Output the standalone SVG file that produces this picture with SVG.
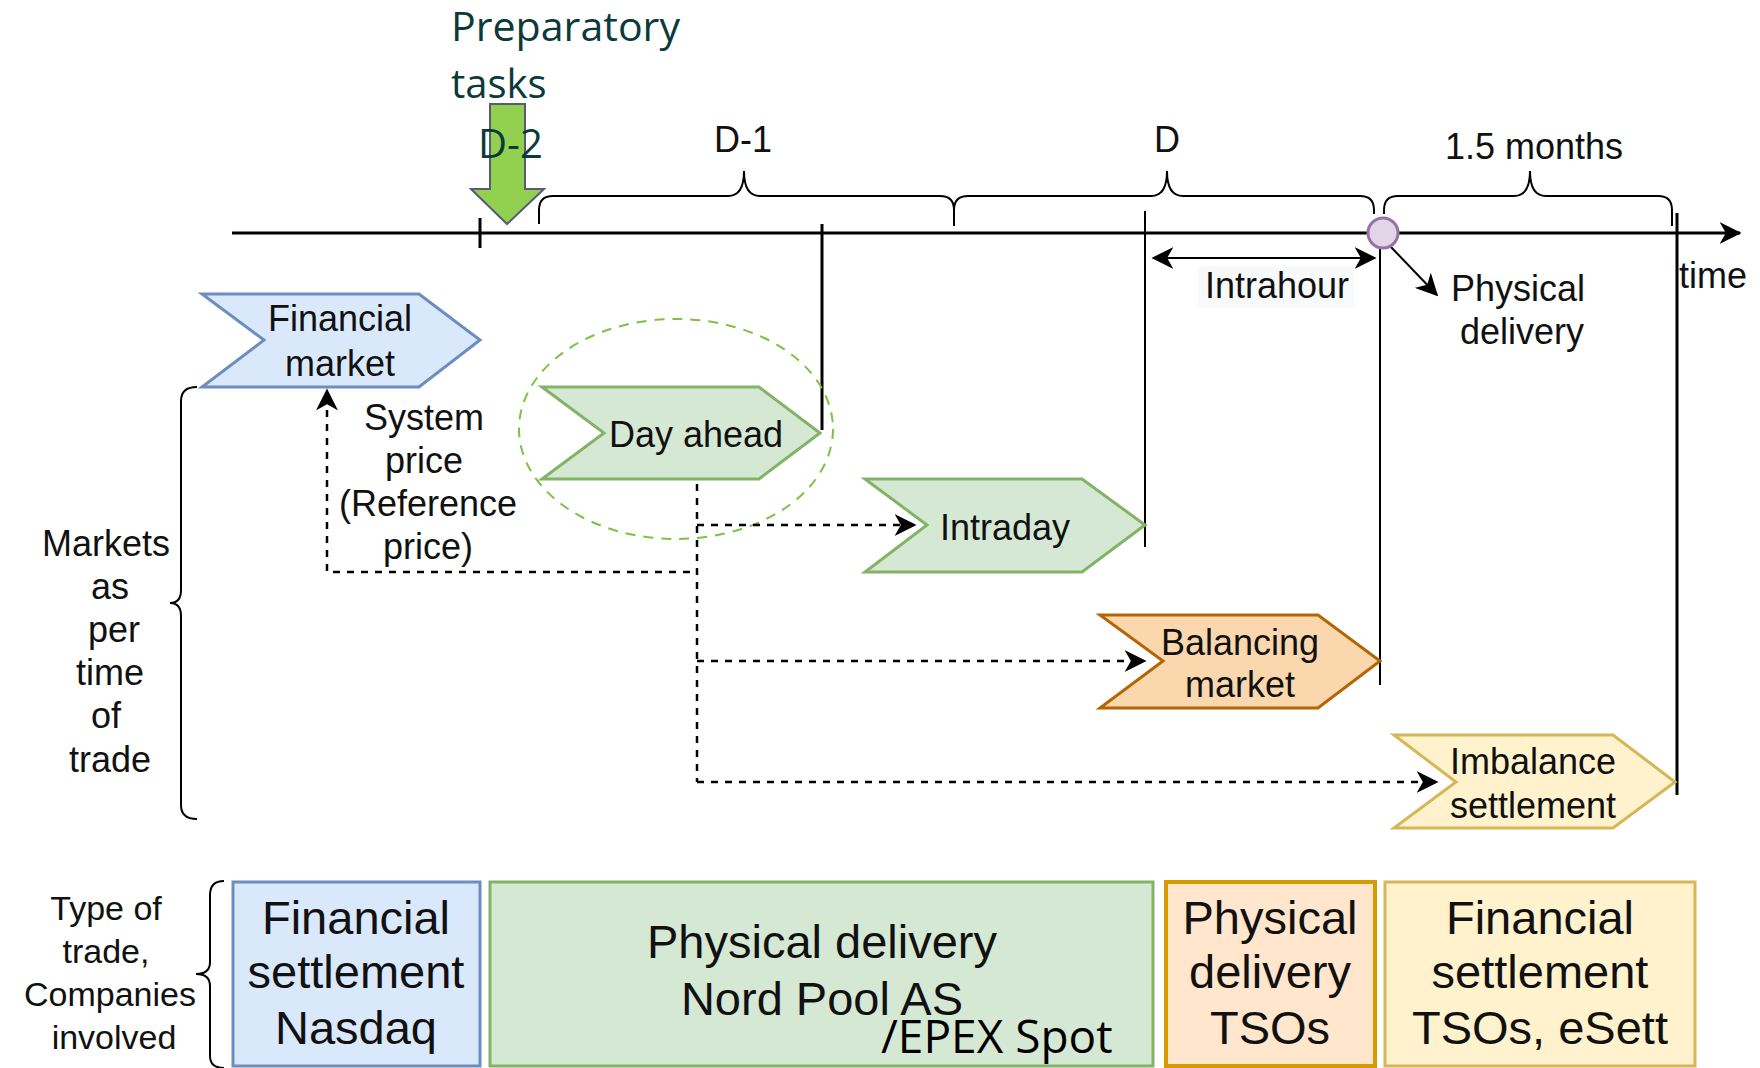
<svg xmlns="http://www.w3.org/2000/svg" width="1760" height="1068" viewBox="0 0 1760 1068">
  <style>
    .lbl { font-family: "Liberation Sans", Arial, sans-serif; font-size: 36px; fill: #111; text-anchor: middle; }
    .big { font-family: "Liberation Sans", Arial, sans-serif; font-size: 47px; fill: #111; text-anchor: middle; }
    .side { font-family: "Liberation Sans", Arial, sans-serif; font-size: 34px; fill: #111; text-anchor: middle; }
    .note { font-family: "Open Sans", "Noto Sans", sans-serif; fill: #0b3a3a; }
    .line { stroke: #000; stroke-width: 3; fill: none; }
    .thin { stroke: #000; stroke-width: 2; fill: none; }
    .brace { stroke: #000; stroke-width: 2; fill: none; }
    .dash { stroke: #000; stroke-width: 2.5; fill: none; stroke-dasharray: 7 7; }
    .blue { fill: #dae8fc; stroke: #6c8ebf; stroke-width: 3; }
    .green { fill: #d5e8d4; stroke: #82b366; stroke-width: 3; }
    .orange { fill: #fad7ac; stroke: #b46504; stroke-width: 3; }
    .peach { fill: #ffe6cc; stroke: #d79b00; stroke-width: 4; }
    .yellow { fill: #fff2cc; stroke: #d6b656; stroke-width: 3; }
  </style>
  <defs>
    <marker id="headBig" viewBox="0 0 14 14" refX="13" refY="7" markerWidth="22" markerHeight="22" markerUnits="userSpaceOnUse" orient="auto-start-reverse">
      <path d="M0,0 L14,7 L0,14 L4,7 z" fill="#000"/>
    </marker>
  </defs>

  <rect width="1760" height="1068" fill="#fff"/>

  <!-- time axis and timeline markers -->
  <g id="timeline">
    <line class="line" x1="232" y1="233" x2="1740" y2="233" marker-end="url(#headBig)"/>
    <line class="line" x1="480" y1="218" x2="480" y2="248"/>
    <line class="line" x1="822" y1="224" x2="822" y2="430"/>
    <line class="thin" x1="1145" y1="211" x2="1145" y2="547"/>
    <line class="thin" x1="1380" y1="247" x2="1380" y2="685"/>
    <line class="line" x1="1677" y1="213" x2="1677" y2="795"/>
    <text class="lbl" x="1713" y="288">time</text>
  </g>

  <!-- period braces above the axis -->
  <g id="braces-top">
    <path class="brace" d="M539,224 L539,210 Q539,196 553,196 L728,196 Q744,196 744,171 Q744,196 760,196 L940,196 Q954,196 954,210 L954,226"/>
    <path class="brace" d="M954,226 L954,210 Q954,196 968,196 L1151,196 Q1167,196 1167,171 Q1167,196 1183,196 L1360,196 Q1374,196 1374,210 L1374,214"/>
    <path class="brace" d="M1384,214 L1384,210 Q1384,196 1398,196 L1514,196 Q1530,196 1530,171 Q1530,196 1546,196 L1658,196 Q1672,196 1672,210 L1672,226"/>
    <text class="lbl" x="743" y="152">D-1</text>
    <text class="lbl" x="1167" y="152">D</text>
    <text class="lbl" x="1534" y="159">1.5 months</text>
  </g>

  <!-- preparatory tasks marker -->
  <g id="preparatory">
    <path d="M490,104 L525,104 L525,189 L544,189 L507,224 L471,189 L490,189 Z" fill="#92d050" stroke="#5a5a78" stroke-width="2"/>
    <text class="note" x="451" y="41" font-size="40" textLength="229" lengthAdjust="spacingAndGlyphs">Preparatory</text>
    <text class="note" x="451" y="98" font-size="40">tasks</text>
    <text class="note" x="478" y="158" font-size="40">D-2</text>
  </g>

  <!-- intrahour span and physical delivery point -->
  <g id="intrahour">
    <rect x="1198" y="266" width="156" height="42" fill="#f8f9fa"/>
    <line class="thin" x1="1153" y1="258" x2="1375" y2="258" marker-start="url(#headBig)" marker-end="url(#headBig)"/>
    <text class="lbl" x="1277" y="298">Intrahour</text>
  </g>
  <g id="physical-delivery-point">
    <line class="thin" x1="1390" y1="246" x2="1437" y2="295" marker-end="url(#headBig)"/>
    <circle cx="1383" cy="233" r="15" fill="#e1d5e7" stroke="#9673a6" stroke-width="3"/>
    <text class="lbl" x="1518" y="301">Physical</text>
    <text class="lbl" x="1522" y="344">delivery</text>
  </g>

  <!-- markets -->
  <g id="financial-market">
    <path class="blue" d="M202,294 L419,294 L480,340 L419,387 L202,387 L264,340 Z"/>
    <text class="lbl" x="340" y="331">Financial</text>
    <text class="lbl" x="340" y="376">market</text>
  </g>
  <g id="day-ahead">
    <ellipse cx="676" cy="429" rx="157" ry="110" fill="none" stroke="#7dc242" stroke-width="2" stroke-dasharray="10 8"/>
    <path class="green" d="M542,387 L759,387 L820,433 L759,479 L542,479 L604,433 Z"/>
    <text class="lbl" x="696" y="447">Day ahead</text>
  </g>
  <g id="intraday">
    <path class="green" d="M865,479 L1082,479 L1145,525 L1082,572 L865,572 L927,525 Z"/>
    <text class="lbl" x="1005" y="540">Intraday</text>
  </g>
  <g id="balancing-market">
    <path class="orange" d="M1100,615 L1318,615 L1380,661 L1318,708 L1100,708 L1163,661 Z"/>
    <text class="lbl" x="1240" y="655">Balancing</text>
    <text class="lbl" x="1240" y="697">market</text>
  </g>
  <g id="imbalance-settlement">
    <path class="yellow" d="M1394,735 L1613,735 L1675,782 L1613,828 L1394,828 L1456,782 Z"/>
    <text class="lbl" x="1533" y="774">Imbalance</text>
    <text class="lbl" x="1533" y="818">settlement</text>
  </g>

  <!-- reference price label -->
  <g id="system-price">
    <text class="lbl" x="424" y="430">System</text>
    <text class="lbl" x="424" y="473">price</text>
    <text class="lbl" x="428" y="516">(Reference</text>
    <text class="lbl" x="428" y="559">price)</text>
  </g>

  <!-- dashed connectors out of the day-ahead market -->
  <g id="connectors">
    <path class="dash" d="M697,484 L697,782"/>
    <path class="dash" d="M697,525 L915,525" marker-end="url(#headBig)"/>
    <path class="dash" d="M690,572 L327,572 L327,390" marker-end="url(#headBig)"/>
    <path class="dash" d="M697,661 L1145,661" marker-end="url(#headBig)"/>
    <path class="dash" d="M697,782 L1437,782" marker-end="url(#headBig)"/>
  </g>

  <!-- row captions -->
  <g id="markets-caption">
    <path class="brace" d="M197,387 Q181,387 181,401 L181,590 Q181,603 170,603 Q181,603 181,616 L181,805 Q181,819 197,819"/>
    <text class="lbl" x="106" y="556">Markets</text>
    <text class="lbl" x="110" y="599">as</text>
    <text class="lbl" x="114" y="642">per</text>
    <text class="lbl" x="110" y="685">time</text>
    <text class="lbl" x="106" y="728">of</text>
    <text class="lbl" x="110" y="772">trade</text>
  </g>
  <g id="trade-caption">
    <path class="brace" d="M224,881 Q210,881 210,895 L210,962 Q210,974 196,974 Q210,974 210,986 L210,1056 Q210,1068 224,1068"/>
    <text class="side" x="106" y="920">Type of</text>
    <text class="side" x="106" y="963">trade,</text>
    <text class="side" x="110" y="1006">Companies</text>
    <text class="side" x="114" y="1049">involved</text>
  </g>

  <!-- companies per trade type -->
  <g id="box-nasdaq">
    <rect class="blue" x="233" y="882" width="247" height="184"/>
    <text class="big" x="356" y="934">Financial</text>
    <text class="big" x="356" y="988">settlement</text>
    <text class="big" x="356" y="1044">Nasdaq</text>
  </g>
  <g id="box-nordpool">
    <rect class="green" x="490" y="882" width="663" height="184"/>
    <text class="big" x="822" y="958">Physical delivery</text>
    <text class="big" x="822" y="1015">Nord Pool AS</text>
    <text class="note" x="881" y="1053" font-size="46" style="fill:#000">/EPEX Spot</text>
  </g>
  <g id="box-tsos">
    <rect class="peach" x="1166" y="882" width="209" height="184"/>
    <text class="big" x="1270" y="934">Physical</text>
    <text class="big" x="1270" y="988">delivery</text>
    <text class="big" x="1270" y="1044">TSOs</text>
  </g>
  <g id="box-esett">
    <rect class="yellow" x="1385" y="882" width="310" height="184"/>
    <text class="big" x="1540" y="934">Financial</text>
    <text class="big" x="1540" y="988">settlement</text>
    <text class="big" x="1540" y="1044">TSOs, eSett</text>
  </g>
</svg>
